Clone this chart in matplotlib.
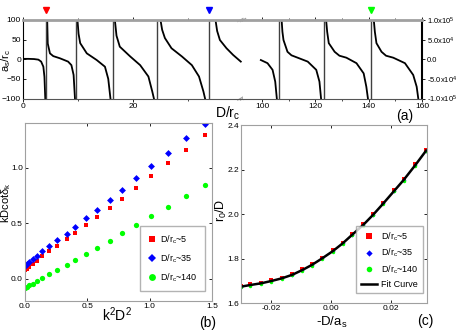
import matplotlib
matplotlib.use("Agg")
import matplotlib.pyplot as plt
from matplotlib.ticker import FixedLocator, FixedFormatter, FormatStrFormatter

plt.rcParams['font.family'] = ['Liberation Sans', 'DejaVu Sans']
plt.rcParams['mathtext.default'] = 'regular'

# ---- panel (a): a_s/r_c vs D/r_c, branches ----
left_branches = [
    ([0, 1, 2, 2.8, 3.3, 3.7, 3.9, 4.05], [1, 1, 0.5, -1, -6, -19, -45, -100]),
    ([4.4, 4.5, 4.9, 5.5, 6.7, 7.5, 8.2, 8.8, 9.2, 9.45], [100, 40, 15, 8, 2.5, -2, -6, -15, -40, -100]),
    ([9.9, 10.1, 10.4, 11.6, 13.4, 14.9, 15.5, 15.9], [100, 65, 41, 15, -2, -19, -50, -100]),
    ([16.7, 17.0, 17.6, 19.5, 21.3, 22.8, 23.5, 23.8], [100, 60, 32, 7, -15, -44, -82, -100]),
    ([25.0, 25.3, 25.8, 27.0, 28.9, 30.7, 32.0, 32.8, 33.1], [100, 75, 54, 28, 7, -15, -44, -82, -100]),
    ([35.0, 35.3, 35.8, 37.0, 38.2, 39.6], [100, 72, 49, 28, 11, -6]),
]
right_branches = [
    ([99.5, 102, 103.9, 104.9, 105.5], [-2e3, -1e4, -2.7e4, -5.7e4, -1e5]),
    ([107.3, 107.6, 108, 109.5, 111, 113.3, 117.1, 120.3, 121.5, 122.1],
     [1e5, 7e4, 4.9e4, 1.9e4, 1e4, 4e3, -6e3, -2.7e4, -5.7e4, -1e5]),
    ([124, 124.4, 125, 127.2, 129, 131.6, 135.4, 138.1, 139.1, 139.7],
     [1e5, 7e4, 4.1e4, 1.9e4, 9e3, 4e3, -1e4, -3.6e4, -7e4, -1e5]),
    ([141.9, 142.3, 142.9, 144.8, 146.5, 149.2, 153.6, 156.7, 158, 158.6],
     [1e5, 7e4, 4.1e4, 1.9e4, 9e3, 4e3, -1e4, -4e4, -7e4, -1e5]),
]
poles_left = [4.2, 9.6, 16.3, 24.3, 33.9]
poles_right = [106.4, 123.1, 140.8]
marker_left = [(4.2, 'red'), (33.9, 'blue')]
marker_right = [(140.8, '#00ff00')]

# ---- panel (b) ----
k2D2 = [0.004, 0.016, 0.036, 0.067, 0.10, 0.14, 0.195, 0.26, 0.333, 0.405,
        0.49, 0.575, 0.68, 0.78, 0.89, 1.01, 1.15, 1.29, 1.44]
cot_5 = [0.078, 0.093, 0.11, 0.135, 0.165, 0.207, 0.249, 0.297, 0.357, 0.413,
         0.482, 0.554, 0.635, 0.722, 0.82, 0.922, 1.04, 1.156, 1.29]
cot_35 = [0.117, 0.135, 0.155, 0.176, 0.209, 0.25, 0.296, 0.35, 0.407, 0.47,
          0.545, 0.623, 0.71, 0.80, 0.902, 1.012, 1.135, 1.264, 1.393]
cot_140 = [-0.084, -0.075, -0.057, -0.042, -0.021, 0.006, 0.042, 0.081, 0.123, 0.168,
           0.222, 0.282, 0.342, 0.41, 0.482, 0.563, 0.65, 0.743, 0.842]

# ---- panel (c) ----
Das = [-0.030, -0.027, -0.0233, -0.020, -0.0165, -0.013, -0.0097, -0.0065, -0.003, 0.0005,
       0.0038, 0.007, 0.0106, 0.014, 0.0174, 0.021, 0.0241, 0.028, 0.0316]
r0_fit = [1.675, 1.682, 1.690, 1.700, 1.712, 1.728, 1.749, 1.772, 1.802, 1.834,
          1.869, 1.908, 1.951, 1.998, 2.049, 2.105, 2.153, 2.220, 2.285]
r0_5 = [1.678, 1.685, 1.693, 1.703, 1.715, 1.731, 1.752, 1.775, 1.805, 1.837,
        1.872, 1.911, 1.954, 2.001, 2.052, 2.108, 2.156, 2.223, 2.288]
r0_35 = [1.675, 1.682, 1.690, 1.700, 1.712, 1.728, 1.749, 1.772, 1.802, 1.834,
         1.869, 1.908, 1.951, 1.998, 2.049, 2.105, 2.153, 2.220, 2.285]
r0_140 = [1.672, 1.679, 1.687, 1.697, 1.709, 1.725, 1.746, 1.769, 1.799, 1.831,
          1.866, 1.905, 1.948, 1.995, 2.046, 2.102, 2.150, 2.217, 2.282]

W, H = 457, 332
fig = plt.figure(figsize=(W / 100, H / 100), dpi=100)

def box(x0, x1, y0, y1):
    return [x0 / W, 1 - y1 / H, (x1 - x0) / W, (y1 - y0) / H]

grey = '#a0a0a0'
fs_tick = 6
fs_lab = 10

# (a)
axL = fig.add_axes(box(23, 243, 20, 98.5))
axR = fig.add_axes(box(243, 422, 20, 98.5))
for xs, ys in left_branches:
    axL.plot(xs, ys, color='black', lw=1.3)
for p in poles_left:
    axL.axvline(p, color='#404040', lw=1.0)
for xs, ys in right_branches:
    axR.plot(xs, ys, color='black', lw=1.3)
for p in poles_right:
    axR.axvline(p, color='#404040', lw=1.0)
for p, c in marker_left:
    axL.plot([p], [126], marker='v', color=c, ms=5, clip_on=False)
for p, c in marker_right:
    axR.plot([p], [1.26e5], marker='v', color=c, ms=5, clip_on=False)

axL.set_xlim(0, 40)
axL.set_ylim(-100, 100)
axR.set_xlim(92.8, 160)
axR.set_ylim(-1e5, 1e5)
axL.spines['right'].set_visible(False)
axR.spines['left'].set_visible(False)
for ax in (axL, axR):
    ax.spines['top'].set_color(grey)
    ax.spines['top'].set_linewidth(2)
    ax.spines['bottom'].set_color('#555555')
    ax.tick_params(labelsize=fs_tick, length=2.5, width=0.6, pad=1)
    ax.tick_params(which='minor', length=1.5, width=0.5)
axL.set_xticks([0, 20])
axL.xaxis.set_minor_locator(FixedLocator([10, 30]))
axL.set_yticks([-100, -50, 0, 50, 100])
axL.tick_params(axis='y', direction='in', pad=1.5)
axL.tick_params(axis='x', top=True, which='both')
axR.set_xticks([100, 120, 140, 160])
axR.xaxis.set_minor_locator(FixedLocator([110, 130, 150]))
axR.tick_params(axis='x', top=True, which='both')
axR.yaxis.tick_right()
axR.yaxis.set_major_locator(FixedLocator([-1e5, -5e4, 0, 5e4, 1e5]))
axR.yaxis.set_major_formatter(FixedFormatter(
    ['-1.0x10$^5$', '-5.0x10$^4$', '0.0', '5.0x10$^4$', '1.0x10$^5$']))
axR.tick_params(axis='y', labelsize=5.5, pad=1)
axR.spines['right'].set_linewidth(1.5)
fig.text(6 / W, 1 - 60 / H, r'a$_s$/r$_c$', fontsize=8, rotation=90, ha='center', va='center')
fig.text(228 / W, 1 - 113 / H, r'D/r$_c$', fontsize=fs_lab, ha='center', va='center')
fig.text(405 / W, 1 - 116 / H, '(a)', fontsize=fs_lab, ha='center', va='center')

# break marks
for yy in (0, 1):
    for dx in (-0.012, 0.0):
        axL.plot([1.0 + dx - 0.012, 1.0 + dx + 0.012], [yy - 0.02, yy + 0.02],
                 transform=axL.transAxes, color=grey, lw=0.8, clip_on=False)

# (b)
axb = fig.add_axes(box(25, 212, 123, 300.7))
axb.plot(k2D2, cot_5, 's', color='red', ms=3.5, mew=0, label=r'D/r$_c$~5')
axb.plot(k2D2, cot_35, 'D', color='blue', ms=3.5, mew=0, label=r'D/r$_c$~35')
axb.plot(k2D2, cot_140, 'o', color='#00ff00', ms=3.8, mew=0, label=r'D/r$_c$~140')
axb.set_xlim(0, 1.5)
axb.set_ylim(-0.195, 1.40)
axb.set_xticks([0, 0.5, 1.0, 1.5])
axb.set_yticks([0, 0.5, 1.0])
axb.xaxis.set_major_formatter(FormatStrFormatter('%.1f'))
axb.yaxis.set_major_formatter(FormatStrFormatter('%.1f'))
fig.text(117 / W, 1 - 315 / H, r'k$^2$D$^2$', fontsize=fs_lab, ha='center', va='center')
fig.text(6 / W, 1 - 203 / H, r'kDcot$\delta_k$', fontsize=8, rotation=90, ha='center', va='center')
axb.legend(loc='lower right', fontsize=6.5, frameon=True, fancybox=False,
           edgecolor=grey, handletextpad=0.4, borderpad=0.8, labelspacing=0.7,
           handlelength=1.0, markerscale=1.3, bbox_to_anchor=(0.985, 0.03))
fig.text(208 / W, 1 - 323 / H, '(b)', fontsize=fs_lab, ha='center', va='center')

# (c)
axc = fig.add_axes(box(241.3, 427.3, 125, 303.3))
axc.plot(Das, r0_5, 's', color='red', ms=2.5, mew=0, label=r'D/r$_c$~5')
axc.plot(Das, r0_35, 'D', color='blue', ms=2.0, mew=0, label=r'D/r$_c$~35')
axc.plot(Das, r0_140, 'o', color='#00ff00', ms=2.5, mew=0, label=r'D/r$_c$~140')
axc.plot(Das, r0_fit, '-', color='black', lw=1.8, label='Fit Curve')
axc.set_xlim(-0.03, 0.032)
axc.set_ylim(1.6, 2.4)
axc.set_xticks([-0.02, 0.0, 0.02])
axc.set_yticks([1.6, 1.8, 2.0, 2.2, 2.4])
axc.xaxis.set_major_formatter(FormatStrFormatter('%.2f'))
axc.yaxis.set_major_formatter(FormatStrFormatter('%.1f'))
fig.text(332 / W, 1 - 322 / H, r'-D/a$_s$', fontsize=9.5, ha='center', va='center')
fig.text(221 / W, 1 - 210 / H, r'r$_0$/D', fontsize=9, rotation=90, ha='center', va='center')
axc.legend(loc='lower right', fontsize=6.5, frameon=True, fancybox=False,
           edgecolor=grey, handletextpad=0.4, borderpad=0.5, labelspacing=0.45,
           markerscale=1.6, handlelength=1.8, bbox_to_anchor=(1.0, 0.03))
fig.text(425 / W, 1 - 321 / H, '(c)', fontsize=fs_lab, ha='center', va='center')

for ax in (axb, axc):
    for s in ax.spines.values():
        s.set_color(grey)
    ax.tick_params(labelsize=fs_tick, length=2.5, width=0.6, pad=1.5, direction='in',
                   top=True, right=True)

fig.savefig('out.png', dpi=100)
